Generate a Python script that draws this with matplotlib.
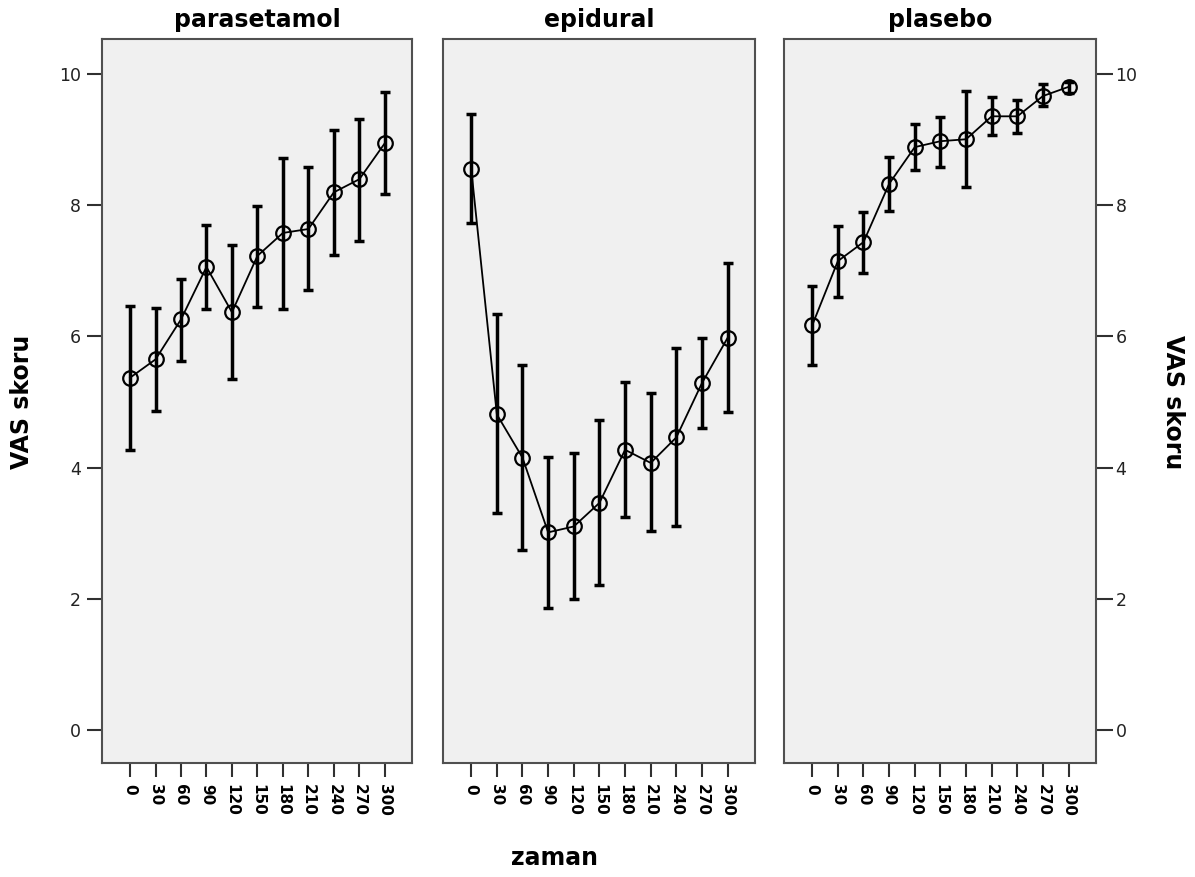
import matplotlib
matplotlib.use("Agg")
import matplotlib.pyplot as plt

# ---- data ----
zaman = [0, 30, 60, 90, 120, 150, 180, 210, 240, 270, 300]
groups = ["parasetamol", "epidural", "plasebo"]

parasetamol_mean = [5.37, 5.65, 6.26, 7.06, 6.37, 7.23, 7.58, 7.64, 8.20, 8.40, 8.95]
parasetamol_hi = [6.46, 6.44, 6.88, 7.70, 7.40, 7.99, 8.72, 8.59, 9.15, 9.32, 9.73]
parasetamol_lo = [4.26, 4.86, 5.63, 6.42, 5.35, 6.45, 6.42, 6.71, 7.25, 7.46, 8.17]

epidural_mean = [8.56, 4.81, 4.15, 3.01, 3.10, 3.46, 4.27, 4.07, 4.46, 5.29, 5.98]
epidural_hi = [9.40, 6.34, 5.56, 4.16, 4.22, 4.73, 5.30, 5.13, 5.82, 5.98, 7.12]
epidural_lo = [7.73, 3.31, 2.74, 1.86, 2.00, 2.20, 3.25, 3.03, 3.10, 4.60, 4.84]

plasebo_mean = [6.17, 7.15, 7.44, 8.33, 8.89, 8.98, 9.01, 9.36, 9.36, 9.67, 9.81]
plasebo_hi = [6.77, 7.68, 7.90, 8.74, 9.24, 9.35, 9.75, 9.65, 9.61, 9.85, 9.88]
plasebo_lo = [5.57, 6.60, 6.97, 7.92, 8.54, 8.59, 8.28, 9.07, 9.11, 9.51, 9.72]

y_ticks = [0, 2, 4, 6, 8, 10]
y_label = "VAS skoru"
x_label = "zaman"

series = [
    (parasetamol_mean, parasetamol_lo, parasetamol_hi),
    (epidural_mean, epidural_lo, epidural_hi),
    (plasebo_mean, plasebo_lo, plasebo_hi),
]

# ---- figure ----
W, H = 1195, 877
fig = plt.figure(figsize=(W / 100, H / 100), dpi=100)

lefts = [102, 443, 784]
widths = [310, 312, 312]
top_px, bot_px = 39, 763

spine_col = "#505050"
axes = []
for i, (name, (m, lo, hi)) in enumerate(zip(groups, series)):
    ax = fig.add_axes([lefts[i] / W, 1 - bot_px / H, widths[i] / W, (bot_px - top_px) / H])
    ax.set_facecolor("#F0F0F0")
    yerr = [[mm - l for mm, l in zip(m, lo)], [h - mm for mm, h in zip(m, hi)]]
    ax.errorbar(zaman, m, yerr=yerr, fmt="none", ecolor="black", elinewidth=2.5,
                capsize=3.5, capthick=2.5, zorder=2)
    ax.plot(zaman, m, color="black", lw=1.3, zorder=3)
    ax.plot(zaman, m, linestyle="none", marker="o", markersize=10.5,
            markerfacecolor="none", markeredgecolor="black", markeredgewidth=1.6, zorder=4)
    ax.set_xlim(-33, 332)
    ax.set_ylim(-0.51, 10.54)
    ax.set_xticks(zaman)
    ax.set_xticklabels([str(z) for z in zaman], rotation=270, fontsize=11,
                       fontweight="bold", ha="center", va="top")
    ax.tick_params(axis="x", length=10, width=1.5, color="#303030", pad=5)
    ax.set_yticks(y_ticks)
    for s in ax.spines.values():
        s.set_color(spine_col)
        s.set_linewidth(1.5)
    ax.set_title(name, fontsize=17, fontweight="bold", pad=8.5)
    if i == 0:
        ax.tick_params(axis="y", left=True, right=False, labelleft=True,
                       length=11, width=1.5, color="#303030", pad=4, labelsize=12.5,
                       labelcolor="#222222")
    elif i == 1:
        ax.tick_params(axis="y", left=False, right=False, labelleft=False)
    else:
        ax.yaxis.tick_right()
        ax.tick_params(axis="y", left=False, right=True, labelright=True, labelleft=False,
                       length=12, width=1.5, color="#303030", pad=2, labelsize=12.5,
                       labelcolor="#222222")
    axes.append(ax)

fig.text(22 / W, 1 - 402 / H, y_label, rotation=90, ha="center", va="center",
         fontsize=17, fontweight="bold")
fig.text(1173 / W, 1 - 402 / H, y_label, rotation=270, ha="center", va="center",
         fontsize=17, fontweight="bold")
fig.text(554 / W, 1 - 858 / H, x_label, ha="center", va="center",
         fontsize=17, fontweight="bold")

fig.savefig("out.png", dpi=100, facecolor="white")
